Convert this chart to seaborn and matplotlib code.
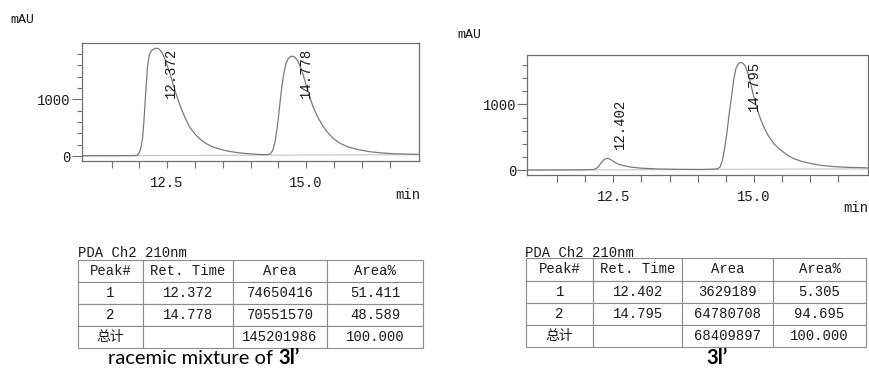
import matplotlib
matplotlib.use("Agg")
import matplotlib.pyplot as plt
import seaborn as sns
from matplotlib.ticker import FixedLocator

# traces: time (min) and signal (mAU)
rac_time = [10.97, 11.50, 11.90, 11.96, 12.00, 12.03, 12.06, 12.09, 12.12, 12.15,
            12.18, 12.22, 12.26, 12.30, 12.34, 12.38, 12.42, 12.46, 12.50, 12.55,
            12.60, 12.65, 12.70, 12.76, 12.83, 12.90, 13.00, 13.10, 13.20, 13.30,
            13.45, 13.60, 13.80, 14.00, 14.20, 14.30, 14.36, 14.40, 14.44, 14.48,
            14.52, 14.56, 14.60, 14.64, 14.68, 14.72, 14.76, 14.80, 14.85, 14.90,
            14.95, 15.00, 15.06, 15.12, 15.20, 15.30, 15.40, 15.50, 15.60, 15.75,
            15.95, 16.15, 16.35, 16.55, 16.75, 17.03]
rac_mau = [5, 6, 8, 12, 60, 150, 320, 720, 1200, 1600,
           1790, 1860, 1885, 1900, 1898, 1860, 1800, 1710, 1600, 1460,
           1290, 1130, 980, 820, 660, 520, 390, 290, 220, 170,
           120, 85, 55, 38, 26, 25, 40, 100, 250, 500,
           850, 1200, 1470, 1640, 1720, 1755, 1760, 1740, 1680, 1560,
           1420, 1250, 1060, 880, 700, 530, 400, 300, 230, 160,
           110, 75, 55, 42, 35, 30]

ee_time = [10.98, 11.50, 12.00, 12.15, 12.22, 12.28, 12.34, 12.39, 12.44, 12.50,
           12.57, 12.66, 12.80, 13.00, 13.30, 13.70, 14.10, 14.35, 14.40, 14.44,
           14.48, 14.52, 14.56, 14.60, 14.64, 14.68, 14.72, 14.76, 14.80, 14.84,
           14.88, 14.93, 14.98, 15.04, 15.10, 15.18, 15.26, 15.36, 15.46, 15.58,
           15.70, 15.85, 16.00, 16.20, 16.40, 16.65, 17.02]
ee_mau = [5, 6, 8, 12, 40, 110, 165, 182, 170, 135,
          100, 75, 50, 32, 20, 14, 12, 20, 50, 150,
          330, 560, 850, 1100, 1360, 1540, 1610, 1635, 1625, 1590,
          1510, 1360, 1180, 980, 820, 650, 520, 400, 320, 240,
          180, 135, 105, 75, 58, 45, 38]

# integration baselines (start and end points)
rac_base_time = [10.97, 17.03]
rac_base_mau = [4, 24]
ee_base_time = [10.98, 17.02]
ee_base_mau = [3, 22]

rac_peaks = ["12.372", "14.778"]
ee_peaks = ["12.402", "14.795"]

table_header = ["Peak#", "Ret. Time", "Area", "Area%"]
rac_rows = [["1", "12.372", "74650416", "51.411"],
            ["2", "14.778", "70551570", "48.589"],
            ["总计", "", "145201986", "100.000"]]
ee_rows = [["1", "12.402", "3629189", "5.305"],
           ["2", "14.795", "64780708", "94.695"],
           ["总计", "", "68409897", "100.000"]]

sns.set_style("ticks")
plt.rcParams["font.family"] = ["Liberation Mono", "Noto Sans CJK SC"]

TXT = "#1a1a1a"
EDGE = "#6e6e6e"
LINE = "#7a7a7a"
FS = 10

fig = plt.figure(figsize=(8.69, 3.76), dpi=100)


def chrom(rect, t, y, bt, by, peaks, label_x, label_y, ylim):
    ax = fig.add_axes(rect)
    sns.lineplot(x=bt, y=by, ax=ax, color="#c8c8c8", linewidth=0.9)
    sns.lineplot(x=t, y=y, ax=ax, color=LINE, linewidth=0.9, sort=False, estimator=None)
    ax.set_xlim(10.97, 17.03)
    ax.set_ylim(*ylim)
    ax.set_xticks([12.5, 15.0])
    ax.set_xticklabels(["12.5", "15.0"])
    ax.xaxis.set_minor_locator(FixedLocator([11.5, 12, 13, 13.5, 14, 14.5, 15.5, 16, 16.5]))
    ax.set_yticks([0, 1000])
    ax.set_yticklabels(["0", "1000"])
    ax.yaxis.set_minor_locator(FixedLocator([200, 400, 600, 800, 1200, 1400, 1600, 1800]))
    ax.tick_params(axis="x", which="both", length=5, width=0.8, color=EDGE,
                   labelsize=FS, labelcolor=TXT, pad=6)
    ax.tick_params(axis="y", which="major", length=7, width=0.8, color=EDGE,
                   labelsize=FS, labelcolor=TXT, pad=1)
    ax.tick_params(axis="y", which="minor", length=3.5, width=0.8, color=EDGE)
    for s in ax.spines.values():
        s.set_visible(True)
        s.set_color(EDGE)
        s.set_linewidth(0.9)
    ax.set_xlabel("")
    ax.set_ylabel("")
    for lab, lx, ly in zip(peaks, label_x, label_y):
        ax.text(lx, ly, lab, rotation=90, ha="center", va="bottom",
                fontsize=FS, color=TXT)
    return ax


ax1 = chrom([0.0944, 0.5718, 0.3878, 0.3138], rac_time, rac_mau,
            rac_base_time, rac_base_mau, rac_peaks,
            [12.57, 14.99], [1020, 1020], (-88, 1993))
ax2 = chrom([0.6068, 0.5346, 0.3920, 0.3191], ee_time, ee_mau,
            ee_base_time, ee_base_mau, ee_peaks,
            [12.61, 15.00], [320, 900], (-71, 1747))

fig.text(10 / 869, 1 - 20 / 376, "mAU", fontsize=FS - 0.5, color=TXT, va="center")
fig.text(457 / 869, 1 - 35 / 376, "mAU", fontsize=FS - 0.5, color=TXT, va="center")
fig.text(420 / 869, 1 - 195 / 376, "min", fontsize=FS, color=TXT, va="center", ha="right")
fig.text(868 / 869, 1 - 208 / 376, "min", fontsize=FS, color=TXT, va="center", ha="right")


def table(rect, rows, widths, title_x):
    tax = fig.add_axes(rect)
    tax.axis("off")
    tb = tax.table(cellText=rows, colLabels=table_header, colWidths=widths,
                   cellLoc="center", bbox=[0, 0, 1, 1])
    tb.auto_set_font_size(False)
    for cell in tb.get_celld().values():
        cell.set_edgecolor("#8c8c8c")
        cell.set_linewidth(0.8)
        cell.get_text().set_fontsize(FS)
        cell.get_text().set_color(TXT)
    fig.text(title_x, 1 - 253 / 376, "PDA Ch2 210nm", fontsize=FS, color=TXT, va="center")


table([0.0901, 0.0737, 0.3970, 0.2348], rac_rows, [0.187, 0.263, 0.271, 0.28], 78 / 869)
table([0.6053, 0.0763, 0.3912, 0.2367], ee_rows, [0.198, 0.262, 0.268, 0.273], 525 / 869)

# captions: normal + bold pieces share one baseline
cap_y = 1 - 364 / 376
cap = fig.text(108 / 869, cap_y, "racemic mixture of ", fontsize=14.5,
               family="Lato", color="black", va="baseline")
fig.canvas.draw()
bb = cap.get_window_extent()
fig.text(bb.x1 / fig.bbox.width, cap_y, "3l\u2019", fontsize=14.5, family="Lato",
         weight="bold", color="black", va="baseline")
fig.text(716.7 / 869, cap_y, "3l\u2019", fontsize=14.5, family="Lato",
         weight="bold", color="black", ha="center", va="baseline")

fig.savefig("out.png", dpi=100)
